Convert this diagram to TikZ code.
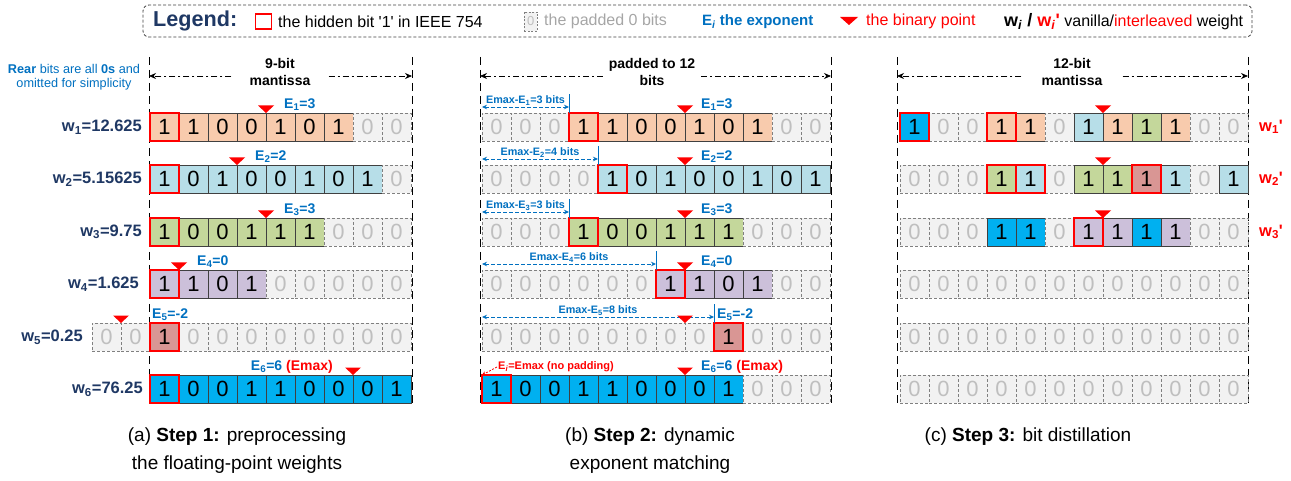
\documentclass[tikz,border=0pt]{standalone}
\usepackage{fontspec}
\setmainfont{Liberation Sans}
\usetikzlibrary{arrows.meta,calc}
\definecolor{cor}{HTML}{F8CBAD}
\definecolor{clb}{HTML}{B7DEE8}
\definecolor{cgr}{HTML}{C4D79B}
\definecolor{cpu}{HTML}{CCC0DA}
\definecolor{crd}{HTML}{D99694}
\definecolor{cbb}{HTML}{00B0F0}
\definecolor{padfill}{HTML}{F2F2F2}
\definecolor{padline}{HTML}{808080}
\definecolor{padtext}{HTML}{BFBFBF}
\definecolor{cellline}{HTML}{404040}
\definecolor{navy}{HTML}{1F3864}
\definecolor{eblue}{HTML}{0070C0}
\definecolor{hred}{HTML}{FF0000}
\definecolor{lgray}{HTML}{A6A6A6}
\newcommand\myfs[2]{\fontsize{#1}{#2}\selectfont}
\newcommand\sbi{\textsubscript{\textit{i}}}
\newcommand\qt{\textquotesingle}
\tikzset{
  cellbase/.style={anchor=north west, minimum width=29pt, minimum height=28pt, inner sep=0pt, outer sep=0pt, line width=0.9pt, font=\myfs{22}{22}},
  cOr/.style={cellbase, draw=cellline, fill=cor},
  cLb/.style={cellbase, draw=cellline, fill=clb},
  cGr/.style={cellbase, draw=cellline, fill=cgr},
  cPu/.style={cellbase, draw=cellline, fill=cpu},
  cRd/.style={cellbase, draw=cellline, fill=crd},
  cBb/.style={cellbase, draw=cellline, fill=cbb},
  cPd/.style={cellbase, draw=padline, dash pattern=on 3pt off 2pt, line width=0.8pt, fill=padfill, text=padtext},
  hidbox/.style={draw=hred, line width=1.4pt},
  wlbl/.style={anchor=east, font=\bfseries\myfs{16.5}{16.5}, text=navy, inner sep=0pt},
  wplbl/.style={anchor=west, font=\bfseries\myfs{16.5}{16.5}, text=hred, inner sep=0pt},
  elbl/.style={anchor=west, font=\bfseries\myfs{14}{14}, text=eblue, inner sep=0pt},
  dimtxt/.style={font=\bfseries\myfs{14}{17}, align=center, inner ysep=0pt},
  dimarr/.style={-{Stealth[length=7pt,width=6pt]}, line width=0.8pt, dash pattern=on 6pt off 3pt on 2pt off 3pt},
  panelline/.style={line width=1pt, dash pattern=on 8pt off 5pt},
  emaxarr/.style={{Stealth[length=5pt,width=4.5pt]}-{Stealth[length=5pt,width=4.5pt]}, draw=eblue, line width=0.8pt, dash pattern=on 4pt off 2pt},
  emaxtxt/.style={font=\bfseries\myfs{10.8}{10.8}, text=eblue, inner sep=1pt},
  tickline/.style={draw=eblue, line width=0.9pt},
  redarr/.style={-{Stealth[length=4pt,width=4pt]}, draw=hred, line width=0.8pt, dash pattern=on 2pt off 1.5pt},
  captxt/.style={font=\myfs{19}{28}, align=center},
}
\newcommand\bitrow[4]{%
  \foreach \s/\b [count=\i from 0] in {#4} {
    \node[\s] (#1-\i) at ({#2+\i*29},{#3}) {\b};
  }%
}
\newcommand\hid[1]{\draw[hidbox] (#1.north west) rectangle (#1.south east);}
\newcommand\bpt[1]{\fill[hred] (#1) ++(-8,-7.5) -- ++(16,0) -- ++(-8,7.5) -- cycle;}
\begin{document}
\begin{tikzpicture}[x=1pt,y=-1pt]
\useasboundingbox (0,0) rectangle (1291,481);

% ---------------- Legend ----------------
\node[draw=cellline, dash pattern=on 3pt off 2pt, rounded corners=6pt, line width=0.8pt, minimum width=1109pt, minimum height=32pt, inner sep=0pt] (legend) at (697.5,21) {};
\node[anchor=west, font=\bfseries\myfs{21.6}{22}, text=navy, inner sep=0pt] (lgT) at (153,21) {Legend:};
\node[draw=hred, line width=1.2pt, minimum width=16pt, minimum height=15pt, inner sep=0pt, anchor=west] (lgH) at (255,21.5) {};
\node[anchor=west, font=\myfs{16}{16}, inner sep=0pt] (lgHt) at (278,21.5) {the hidden bit \qt1\qt{} in IEEE 754};
\node[anchor=west, draw=padline, dash pattern=on 2pt off 1.5pt, line width=0.7pt, fill=padfill, text=padtext, minimum width=13pt, minimum height=19pt, inner sep=0pt, font=\myfs{13}{13}] (lgP) at (524,21.5) {0};
\node[anchor=west, text=lgray, font=\myfs{16}{16}, inner sep=0pt] (lgPt) at (544,21.5) {the padded 0 bits};
\node[anchor=west, text=eblue, font=\bfseries\myfs{15}{15}, inner sep=0pt] (lgE) at (702,21.5) {E\sbi{} the exponent};
\fill[hred] (840,17) -- (858,17) -- (849,25) -- cycle;
\node[anchor=west, text=hred, font=\myfs{16}{16}, inner sep=0pt] (lgB) at (866,21.5) {the binary point};
\node[anchor=west, font=\myfs{16}{16}, inner sep=0pt] (lgW) at (1004,21.5) {{\bfseries\myfs{18}{18}w\sbi{} / \textcolor{hred}{w\sbi\qt}} vanilla/\textcolor{hred}{interleaved} weight};

% ---------------- panel lines ----------------
\coordinate (aLt) at (149,57); \coordinate (aLb) at (149,405);
\coordinate (aRt) at (412,57); \coordinate (aRb) at (412,405);
\coordinate (bLt) at (480,57); \coordinate (bLb) at (480,405);
\coordinate (bRt) at (831,57); \coordinate (bRb) at (831,405);
\coordinate (cLt) at (897,57); \coordinate (cLb) at (897,405);
\coordinate (cRt) at (1248,57); \coordinate (cRb) at (1248,405);
\foreach \p in {aL,aR,bL,bR,cL,cR} {\draw[panelline] (\p t) -- (\p b);}

\coordinate (aAL) at (149,76); \coordinate (aAR) at (412,76);
\coordinate (bAL) at (480,76); \coordinate (bAR) at (831,76);
\coordinate (cAL) at (897,76); \coordinate (cAR) at (1248,76);
\node[dimtxt, inner xsep=18pt] (dimA) at (280,72) {9-bit\\mantissa};
\node[dimtxt, inner xsep=6pt] (dimB) at (652,72) {padded to 12\\bits};
\node[dimtxt, inner xsep=20pt] (dimC) at (1072,72) {12-bit\\mantissa};
\draw[dimarr] (dimA.west |- aAL) -- (aAL);
\draw[dimarr] (dimA.east |- aAR) -- (aAR);
\draw[dimarr] (dimB.west |- bAL) -- (bAL);
\draw[dimarr] (dimB.east |- bAR) -- (bAR);
\draw[dimarr] (dimC.west |- cAL) -- (cAL);
\draw[dimarr] (dimC.east |- cAR) -- (cAR);

\node[align=center, font=\myfs{12.7}{14.5}, text=eblue] (rear) at (74,77) {\textbf{Rear} bits are all \textbf{0s} and\\omitted for simplicity};

% ---------------- panel (a) ----------------
\bitrow{a1}{150}{113}{cOr/1,cOr/1,cOr/0,cOr/0,cOr/1,cOr/0,cOr/1,cPd/0,cPd/0}
\bitrow{a2}{150}{165}{cLb/1,cLb/0,cLb/1,cLb/0,cLb/0,cLb/1,cLb/0,cLb/1,cPd/0}
\bitrow{a3}{150}{218}{cGr/1,cGr/0,cGr/0,cGr/1,cGr/1,cGr/1,cPd/0,cPd/0,cPd/0}
\bitrow{a4}{150}{270}{cPu/1,cPu/1,cPu/0,cPu/1,cPd/0,cPd/0,cPd/0,cPd/0,cPd/0}
\bitrow{a5}{92}{323}{cPd/0,cPd/0,cRd/1,cPd/0,cPd/0,cPd/0,cPd/0,cPd/0,cPd/0,cPd/0,cPd/0}
\bitrow{a6}{150}{375}{cBb/1,cBb/0,cBb/0,cBb/1,cBb/1,cBb/0,cBb/0,cBb/0,cBb/1}
\hid{a1-0}\hid{a2-0}\hid{a3-0}\hid{a4-0}\hid{a5-2}\hid{a6-0}
\bpt{a1-4.north west}\bpt{a2-3.north west}\bpt{a3-4.north west}
\bpt{a4-1.north west}\bpt{a5-1.north west}\bpt{a6-7.north west}
\node[elbl] (ea1) at ($(a1-4.north west)+(18,-8.5)$) {E\textsubscript{1}=3};
\node[elbl] (ea2) at ($(a2-3.north west)+(18,-8.5)$) {E\textsubscript{2}=2};
\node[elbl] (ea3) at ($(a3-4.north west)+(18,-8.5)$) {E\textsubscript{3}=3};
\node[elbl] (ea4) at ($(a4-1.north west)+(18,-8.5)$) {E\textsubscript{4}=0};
\node[elbl] (ea5) at ($(a5-2.north west)+(2,-8.5)$) {E\textsubscript{5}=-2};
\node[elbl, anchor=east] (ea6) at ($(a6-7.north west)+(-20,-8.5)$) {E\textsubscript{6}=6 \textcolor{hred}{(Emax)}};
\node[wlbl] (wa1) at ($(a1-0.west)+(-8,0)$) {w\textsubscript{1}=12.625};
\node[wlbl] (wa2) at ($(a2-0.west)+(-8,0)$) {w\textsubscript{2}=5.15625};
\node[wlbl] (wa3) at ($(a3-0.west)+(-8,0)$) {w\textsubscript{3}=9.75};
\node[wlbl] (wa4) at ($(a4-0.west)+(-11,0)$) {w\textsubscript{4}=1.625};
\node[wlbl] (wa5) at ($(a5-0.west)+(-9,0)$) {w\textsubscript{5}=0.25};
\node[wlbl] (wa6) at ($(a6-0.west)+(-7,0)$) {w\textsubscript{6}=76.25};

% ---------------- panel (b) ----------------
\bitrow{b1}{482}{113}{cPd/0,cPd/0,cPd/0,cOr/1,cOr/1,cOr/0,cOr/0,cOr/1,cOr/0,cOr/1,cPd/0,cPd/0}
\bitrow{b2}{482}{165}{cPd/0,cPd/0,cPd/0,cPd/0,cLb/1,cLb/0,cLb/1,cLb/0,cLb/0,cLb/1,cLb/0,cLb/1}
\bitrow{b3}{482}{218}{cPd/0,cPd/0,cPd/0,cGr/1,cGr/0,cGr/0,cGr/1,cGr/1,cGr/1,cPd/0,cPd/0,cPd/0}
\bitrow{b4}{482}{270}{cPd/0,cPd/0,cPd/0,cPd/0,cPd/0,cPd/0,cPu/1,cPu/1,cPu/0,cPu/1,cPd/0,cPd/0}
\bitrow{b5}{482}{323}{cPd/0,cPd/0,cPd/0,cPd/0,cPd/0,cPd/0,cPd/0,cPd/0,cRd/1,cPd/0,cPd/0,cPd/0}
\bitrow{b6}{482}{375}{cBb/1,cBb/0,cBb/0,cBb/1,cBb/1,cBb/0,cBb/0,cBb/0,cBb/1,cPd/0,cPd/0,cPd/0}
\hid{b1-3}\hid{b2-4}\hid{b3-3}\hid{b4-6}\hid{b5-8}\hid{b6-0}
\foreach \r/\k/\t in {1/3/{Emax-E\textsubscript{1}=3 bits},2/4/{Emax-E\textsubscript{2}=4 bits},3/3/{Emax-E\textsubscript{3}=3 bits},4/6/{Emax-E\textsubscript{4}=6 bits},5/8/{Emax-E\textsubscript{5}=8 bits}} {
  \draw[tickline] (b\r-\k.north west) -- ++(0,-19);
  \draw[emaxarr] ($(b\r-0.north west)+(0,-6)$) -- node[emaxtxt, above] {\t} ($(b\r-\k.north west)+(0,-6)$);
}
\foreach \r in {1,...,6} {\bpt{b\r-7.north west}}
\node[elbl] (eb1) at ($(b1-7.north west)+(16,-8.5)$) {E\textsubscript{1}=3};
\node[elbl] (eb2) at ($(b2-7.north west)+(16,-8.5)$) {E\textsubscript{2}=2};
\node[elbl] (eb3) at ($(b3-7.north west)+(16,-8.5)$) {E\textsubscript{3}=3};
\node[elbl] (eb4) at ($(b4-7.north west)+(16,-8.5)$) {E\textsubscript{4}=0};
\node[elbl] (eb5) at ($(b5-8.north west)+(3,-8.5)$) {E\textsubscript{5}=-2};
\node[elbl] (eb6) at ($(b6-7.north west)+(16,-8.5)$) {E\textsubscript{6}=6 \textcolor{hred}{(Emax)}};
\node[anchor=west, font=\bfseries\myfs{11}{11}, text=hred, inner sep=1pt] (noPad) at (497,367) {E\sbi=Emax (no padding)};
\draw[redarr] (noPad.west) -- (b6-0.north west);

% ---------------- panel (c) ----------------
\bitrow{c1}{900}{113}{cBb/1,cPd/0,cPd/0,cOr/1,cOr/1,cPd/0,cLb/1,cOr/1,cGr/1,cOr/1,cPd/0,cPd/0}
\bitrow{c2}{900}{165}{cPd/0,cPd/0,cPd/0,cGr/1,cLb/1,cPd/0,cGr/1,cGr/1,cRd/1,cLb/1,cPd/0,cLb/1}
\bitrow{c3}{900}{218}{cPd/0,cPd/0,cPd/0,cBb/1,cBb/1,cPd/0,cPu/1,cPu/1,cBb/1,cPu/1,cPd/0,cPd/0}
\bitrow{c4}{900}{270}{cPd/0,cPd/0,cPd/0,cPd/0,cPd/0,cPd/0,cPd/0,cPd/0,cPd/0,cPd/0,cPd/0,cPd/0}
\bitrow{c5}{900}{323}{cPd/0,cPd/0,cPd/0,cPd/0,cPd/0,cPd/0,cPd/0,cPd/0,cPd/0,cPd/0,cPd/0,cPd/0}
\bitrow{c6}{900}{375}{cPd/0,cPd/0,cPd/0,cPd/0,cPd/0,cPd/0,cPd/0,cPd/0,cPd/0,cPd/0,cPd/0,cPd/0}
\hid{c1-0}\hid{c1-3}\hid{c2-3}\hid{c2-4}\hid{c2-8}\hid{c3-6}
\bpt{c1-7.north west}\bpt{c2-7.north west}\bpt{c3-7.north west}
\node[wplbl] (wc1) at ($(c1-11.east)+(11,0)$) {w\textsubscript{1}\qt};
\node[wplbl] (wc2) at ($(c2-11.east)+(11,0)$) {w\textsubscript{2}\qt};
\node[wplbl] (wc3) at ($(c3-11.east)+(11,0)$) {w\textsubscript{3}\qt};

% ---------------- captions ----------------
\node[captxt] (capA) at (237,451) {(a) \textbf{Step 1:} preprocessing\\the floating-point weights};
\node[captxt] (capB) at (650,451) {(b) \textbf{Step 2:} dynamic\\exponent matching};
\node[captxt] (capC) at (1028,437) {(c) \textbf{Step 3:} bit distillation};
\end{tikzpicture}
\end{document}
